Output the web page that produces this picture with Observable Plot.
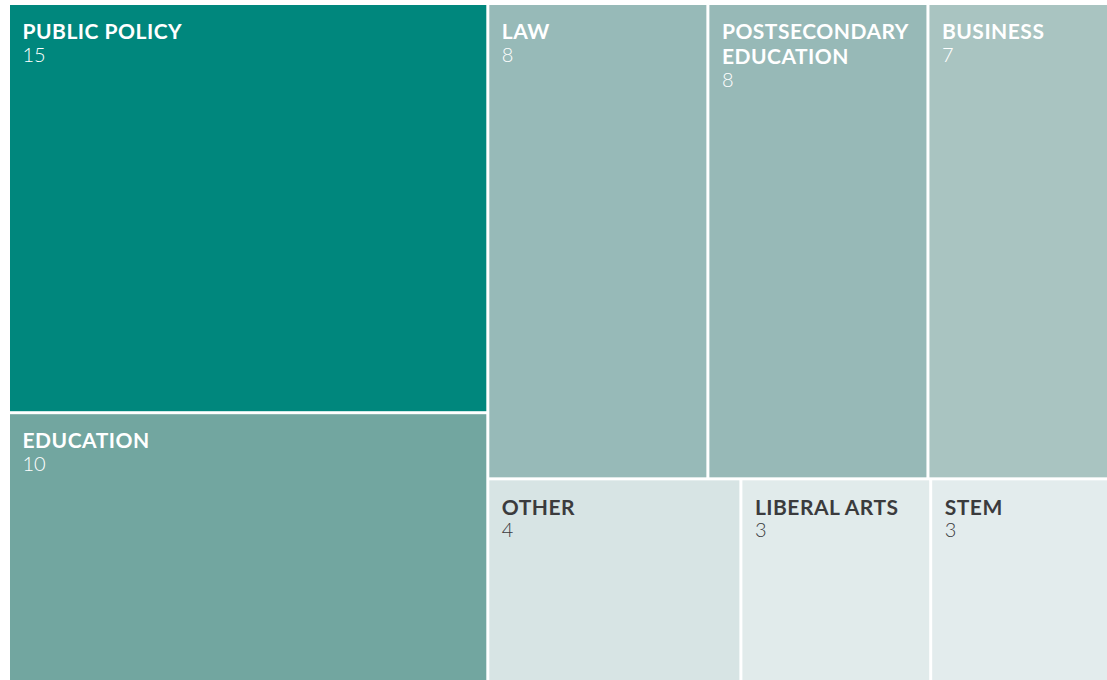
<!DOCTYPE html>
<html>
<head>
<meta charset="utf-8">
<script src="https://cdn.jsdelivr.net/npm/d3@7"></script>
<script src="https://cdn.jsdelivr.net/npm/@observablehq/plot@0.6"></script>
<style>
  html, body { margin: 0; padding: 0; background: #ffffff; }
  #chart svg { display: block; }
  #chart g[font-weight="700"] text { letter-spacing: 0.5px; }
</style>
</head>
<body>
<div id="chart"></div>
<script>
const categories = ["PUBLIC POLICY", "EDUCATION", "LAW", "POSTSECONDARY\nEDUCATION", "BUSINESS", "OTHER", "LIBERAL ARTS", "STEM"];
const counts = [15, 10, 8, 8, 7, 4, 3, 3];
const fills = ["#00877d", "#72a6a0", "#97bab8", "#97b9b7", "#a9c4c1", "#d7e4e4", "#e1ebeb", "#e3eced"];
const textColors = ["#ffffff", "#ffffff", "#ffffff", "#ffffff", "#ffffff", "#3b3b3d", "#3b3b3d", "#3b3b3d"];

const W = 1107, H = 680;
// treemap area (extends slightly beyond the visible frame, as in the reference)
const X0 = 10, Y0 = 5, TW = 1109, TH = 679;

const root = d3.hierarchy({children: categories.map((c, i) => ({name: c, value: counts[i], fill: fills[i], color: textColors[i]}))})
  .sum(d => d.value || 0);
d3.treemap().tile(d3.treemapSquarify).size([TW, TH]).paddingInner(3)(root);

const tiles = root.leaves().map(l => ({
  name: l.data.name,
  value: l.data.value,
  fill: l.data.fill,
  color: l.data.color,
  lines: l.data.name.split("\n").length,
  x0: l.x0 + X0, x1: l.x1 + X0, y0: l.y0 + Y0, y1: l.y1 + Y0
}));

const chart = Plot.plot({
  width: W,
  height: H,
  margin: 0,
  x: {type: "identity", axis: null},
  y: {type: "identity", axis: null},
  style: {fontFamily: "Lato, 'Open Sans', sans-serif", background: "#ffffff"},
  marks: [
    Plot.rect(tiles, {x1: "x0", x2: "x1", y1: "y0", y2: "y1", fill: "fill", inset: 0}),
    Plot.text(tiles, {
      x: d => d.x0 + 12, y: d => d.y0 + 16,
      text: "name", fill: "color",
      textAnchor: "start", lineAnchor: "top",
      fontSize: 21, fontWeight: 700, lineHeight: 25 / 21
    }),
    Plot.text(tiles, {
      x: d => d.x0 + 12, y: d => d.y0 + 17 + d.lines * 25,
      text: d => String(d.value), fill: "color",
      textAnchor: "start", lineAnchor: "top",
      fontSize: 20, fontWeight: 300
    })
  ]
});
document.getElementById("chart").appendChild(chart);
</script>
</body>
</html>
